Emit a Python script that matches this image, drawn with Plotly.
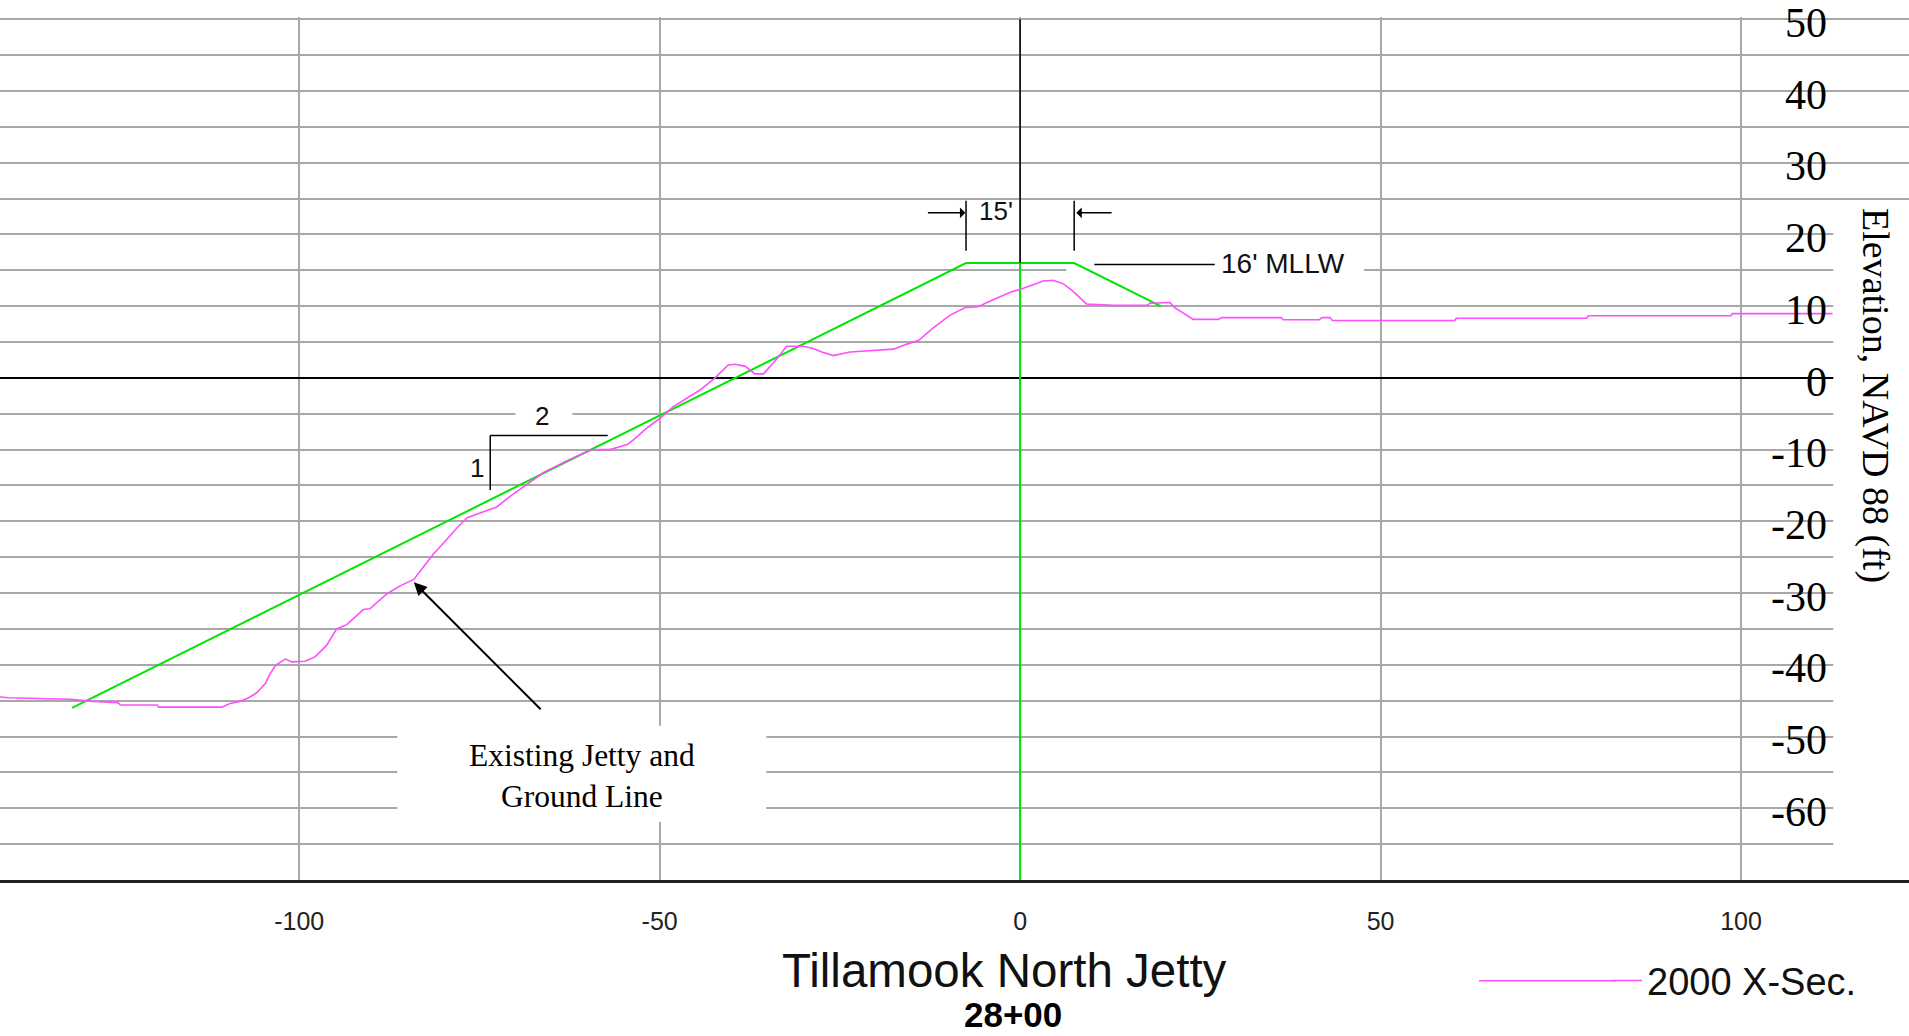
import plotly.graph_objects as go

# ---------------- data ----------------
station_label = "28+00"
series_name = "2000 X-Sec."

# 2000 surveyed cross-section (existing jetty and ground line)
profile_offset_ft = [
    -141.5, -140.3, -131.8, -128.5, -125.1, -124.8, -119.7, -119.5, -110.7, -109.6,
    -108.2, -107.0, -105.9, -104.7, -104.0, -103.2, -101.9, -101.0, -99.2, -97.8,
    -96.2, -94.8, -93.4, -92.0, -91.1, -90.2, -87.8, -86.0, -84.1, -82.8,
    -81.4, -79.5, -78.1, -76.7, -74.4, -72.6, -70.7, -68.4, -66.1, -62.9,
    -60.6, -59.2, -56.9, -54.5, -53.6, -51.8, -49.9, -48.1, -46.2, -44.4,
    -42.3, -40.5, -39.5, -38.1, -36.8, -35.6, -33.7, -32.4, -30.1, -28.7,
    -27.5, -25.9, -23.6, -19.4, -17.6, -15.7, -14.1, -12.0, -9.7, -7.6,
    -5.8, -4.6, -2.8, -1.2, 0.0, 1.6, 3.2, 4.6, 6.0, 7.2,
    8.1, 9.2, 12.9, 17.6, 18.0, 20.8, 21.3, 22.7, 24.0, 27.5,
    28.0, 36.2, 36.5, 41.5, 41.9, 43.0, 43.3, 60.3, 60.5, 78.6,
    78.8, 98.6, 98.8, 112.7,
]
profile_elev_ft = [
    -44.5, -44.6, -44.8, -45.1, -45.3, -45.6, -45.6, -45.9, -45.9, -45.4,
    -45.1, -44.6, -43.9, -42.6, -41.2, -40.0, -39.2, -39.6, -39.5, -38.9,
    -37.3, -35.0, -34.4, -33.2, -32.3, -32.2, -30.1, -29.0, -28.1, -26.4,
    -24.6, -22.5, -20.9, -19.5, -18.6, -18.0, -16.5, -14.9, -13.2, -11.6,
    -10.5, -10.0, -10.0, -9.3, -8.6, -7.0, -5.6, -4.0, -2.8, -1.7,
    0.0, 1.8, 1.9, 1.6, 0.55, 0.55, 2.7, 4.4, 4.4, 4.1,
    3.6, 3.1, 3.6, 3.9, 4.0, 4.7, 5.2, 7.0, 8.75, 9.8,
    9.9, 10.5, 11.3, 12.0, 12.3, 12.9, 13.5, 13.6, 13.1, 12.2,
    11.3, 10.3, 10.1, 10.1, 10.4, 10.5, 9.9, 9.0, 8.15, 8.15,
    8.4, 8.4, 8.1, 8.1, 8.4, 8.4, 8.0, 8.0, 8.3, 8.3,
    8.65, 8.65, 8.95, 8.95,
]

# Design jetty template: 2H:1V side slopes, 15 ft crest at +16 ft MLLW
design_offset_ft = [-131.5, -7.5, 7.5, 19.5]
design_elev_ft = [-46.0, 16.0, 16.0, 10.0]

# Jetty centreline (green below crest, black above)
centerline_offset_ft = [0, 0]
centerline_lower_elev_ft = [-70, 16]
centerline_upper_elev_ft = [16, 50]

x_tick_values = [-100, -50, 0, 50, 100]
x_tick_labels = ["-100", "-50", "0", "50", "100"]
y_tick_values = [-60, -50, -40, -30, -20, -10, 0, 10, 20, 30, 40, 50]
y_tick_labels = ["-60", "-50", "-40", "-30", "-20", "-10", "0", "10", "20", "30", "40", "50"]

# ---------------- styling ----------------
GRID = "#a8a8a8"
GREEN = "#00e600"
PINK = "#ff4dff"
SANS = "Liberation Sans, Arial, sans-serif"
SERIF = "Liberation Serif, Times New Roman, serif"

fig = go.Figure()
fig.add_trace(go.Scatter(x=design_offset_ft, y=design_elev_ft, mode="lines",
                         line=dict(color=GREEN, width=2), showlegend=False, hoverinfo="skip"))
fig.add_trace(go.Scatter(x=centerline_offset_ft, y=centerline_lower_elev_ft, mode="lines",
                         line=dict(color=GREEN, width=2), showlegend=False, hoverinfo="skip"))
fig.add_trace(go.Scatter(x=centerline_offset_ft, y=centerline_upper_elev_ft, mode="lines",
                         line=dict(color="black", width=1.5), showlegend=False, hoverinfo="skip"))
fig.add_trace(go.Scatter(x=profile_offset_ft, y=profile_elev_ft, mode="lines", name=series_name,
                         line=dict(color=PINK, width=1.6)))

crest_left, crest_right = design_offset_ft[1], design_offset_ft[2]

LEG_Y = -(981 - 880) / 865

shapes = [
    # white label backgrounds (between gridlines and traces)
    dict(type="rect", layer="between", xref="x", yref="y", x0=-86.4, x1=-35.2, y0=-61.9, y1=-48.5,
         fillcolor="white", line=dict(width=0)),
    dict(type="rect", layer="between", xref="x", yref="y", x0=-70.0, x1=-62.1, y0=-7.2, y1=-3.1,
         fillcolor="white", line=dict(width=0)),
    dict(type="rect", layer="between", xref="x", yref="y", x0=6.4, x1=47.7, y0=12.9, y1=18.5,
         fillcolor="white", line=dict(width=0)),
    dict(type="rect", layer="between", xref="x", yref="y", x0=112.8, x1=130, y0=-69.6, y1=24.5,
         fillcolor="white", line=dict(width=0)),
    # 2:1 slope triangle
    dict(type="line", xref="x", yref="y", x0=-73.5, x1=-57.2, y0=-8.05, y1=-8.05,
         line=dict(color="black", width=1.5)),
    dict(type="line", xref="x", yref="y", x0=-73.5, x1=-73.5, y0=-8.05, y1=-15.65,
         line=dict(color="black", width=1.5)),
    # crest width extension lines
    dict(type="line", xref="x", yref="y", x0=crest_left, x1=crest_left, y0=17.7, y1=24.7,
         line=dict(color="black", width=1.5)),
    dict(type="line", xref="x", yref="y", x0=crest_right, x1=crest_right, y0=17.7, y1=24.7,
         line=dict(color="black", width=1.5)),
    # crest elevation leader
    dict(type="line", xref="x", yref="y", x0=10.3, x1=27.0, y0=15.8, y1=15.8,
         line=dict(color="black", width=1.5)),
    # legend sample extension (legend line is drawn longer in the reference)
    dict(type="line", xref="paper", yref="paper", x0=1479 / 1909, x1=1616 / 1909,
         y0=LEG_Y, y1=LEG_Y, line=dict(color=PINK, width=1.6)),
]

annotations = [
    dict(text="Existing Jetty and<br>Ground Line", x=-60.8, y=-55.5, xref="x", yref="y",
         showarrow=False, font=dict(family=SERIF, size=31.5, color="black")),
    dict(text="", x=-84.1, y=-28.5, ax=-66.3, ay=-46.4, xref="x", yref="y", axref="x", ayref="y",
         showarrow=True, arrowhead=2, arrowsize=1.3, arrowwidth=2, arrowcolor="black"),
    dict(text="2", x=-66.3, y=-5.3, xref="x", yref="y", showarrow=False,
         font=dict(family=SANS, size=26, color="#111")),
    dict(text="1", x=-75.4, y=-12.5, xref="x", yref="y", showarrow=False,
         font=dict(family=SANS, size=26, color="#111")),
    dict(text="15'", x=-3.3, y=23.2, xref="x", yref="y", showarrow=False,
         font=dict(family=SANS, size=26, color="#111")),
    dict(text="", x=-7.6, y=23.0, ax=-13.0, ay=23.0, xref="x", yref="y", axref="x", ayref="y",
         showarrow=True, arrowhead=1, arrowsize=1.2, arrowwidth=1.5, arrowcolor="black"),
    dict(text="", x=7.8, y=23.0, ax=12.9, ay=23.0, xref="x", yref="y", axref="x", ayref="y",
         showarrow=True, arrowhead=1, arrowsize=1.2, arrowwidth=1.5, arrowcolor="black"),
    dict(text="16' MLLW", x=27.6, y=15.9, xref="x", yref="y", xanchor="left", showarrow=False,
         font=dict(family=SANS, size=28, color="#111")),
    dict(text="Elevation, NAVD 88 (ft)", x=1876 / 1909, y=-2.4, xref="paper", yref="y",
         xanchor="center", yanchor="middle",
         textangle=90, showarrow=False, font=dict(family=SERIF, size=38, color="black")),
    dict(text="Tillamook North Jetty", x=1004 / 1909, y=-(971 - 880) / 865, xref="paper", yref="paper",
         xanchor="center", yanchor="middle", borderpad=0,
         showarrow=False, font=dict(family=SANS, size=47.5, color="#111")),
    dict(text="<b>" + station_label + "</b>", x=1013 / 1909, y=-(1015 - 880) / 865,
         xref="paper", yref="paper", xanchor="center", yanchor="middle", borderpad=0,
         showarrow=False, font=dict(family=SANS, size=35, color="black")),
]

fig.update_layout(
    width=1909, height=1036,
    margin=dict(l=0, r=0, t=15, b=156, pad=0),
    paper_bgcolor="white", plot_bgcolor="white",
    showlegend=True,
    legend=dict(x=1607 / 1909, y=LEG_Y, xanchor="left", yanchor="middle", orientation="h",
                font=dict(family=SANS, size=38, color="#111"), bgcolor="rgba(0,0,0,0)"),
    xaxis=dict(range=[-141.5, 123.3], domain=[0, 1], tickvals=x_tick_values, ticktext=x_tick_labels,
               showgrid=True, gridcolor=GRID, gridwidth=2, zeroline=False,
               showline=True, linecolor="#222", linewidth=3, ticks="",
               ticklabelstandoff=17, tickfont=dict(family=SANS, size=25, color="#222")),
    yaxis=dict(range=[-70, 50.3], anchor="free", position=0.957, side="left",
               tickvals=y_tick_values, ticktext=y_tick_labels, ticklabeloverflow="allow",
               showgrid=True, gridcolor=GRID, gridwidth=2,
               minor=dict(dtick=5, tick0=0, showgrid=True, gridcolor=GRID, gridwidth=2),
               zeroline=True, zerolinecolor="black", zerolinewidth=2,
               showline=False, ticks="", ticklabelshift=3,
               tickfont=dict(family=SERIF, size=42, color="black")),
    shapes=shapes,
    annotations=annotations,
)

fig.write_html("out.html")
